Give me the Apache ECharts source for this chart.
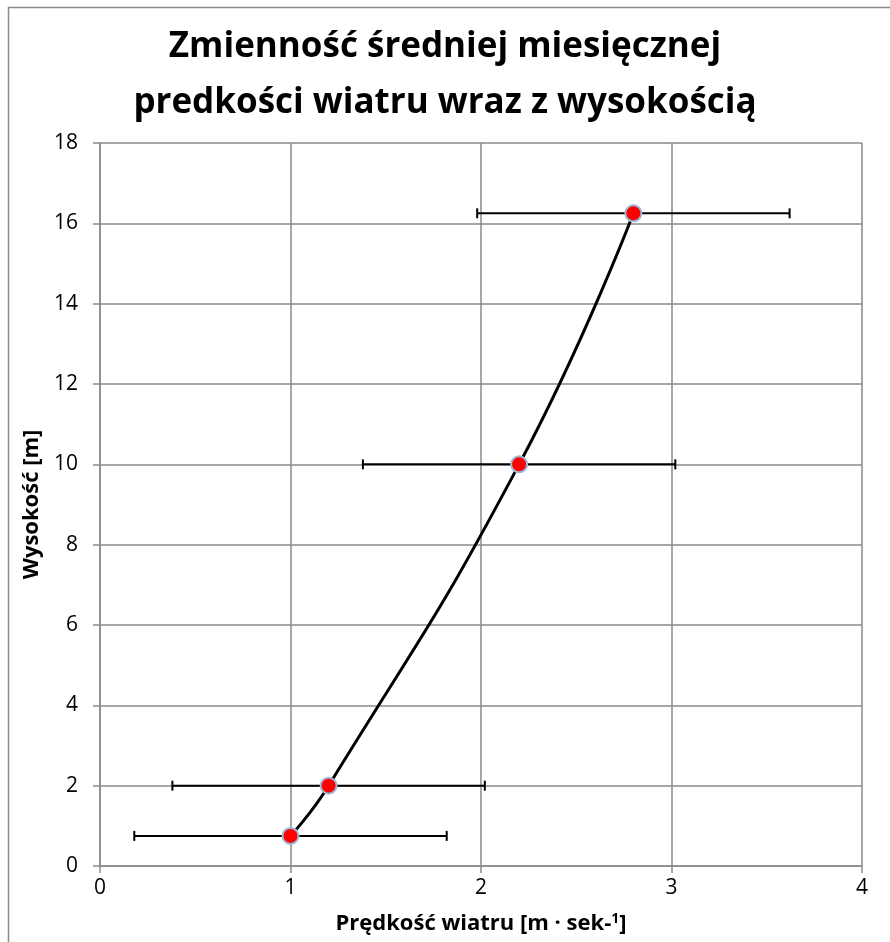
<!DOCTYPE html>
<html><head><meta charset="utf-8">
<script src="https://cdn.jsdelivr.net/npm/echarts@6/dist/echarts.min.js"></script>
<style>html,body{margin:0;padding:0;background:#fff}#c{width:890px;height:942px}</style>
</head><body><div id="c"></div>
<script>
var speeds = [1.0, 1.2, 2.2, 2.8];
var heights = [0.75, 2, 10, 16.25];
var errors = [0.82, 0.82, 0.82, 0.82];
var titleLines = ['Zmienność średniej miesięcznej', 'predkości wiatru wraz z wysokością'];

var pts = speeds.map(function(s, i){ return [s, heights[i]]; });
var errData = speeds.map(function(s, i){ return [s - errors[i], s + errors[i], heights[i]]; });

var chart = echarts.init(document.getElementById('c'), null, {renderer:'canvas'});
var F = '"Open Sans", "Liberation Sans", sans-serif';
chart.setOption({
  animation: false,
  backgroundColor: '#fff',
  title: {
    text: titleLines.join('\n'),
    left: 'center', top: 14,
    textStyle: { fontFamily: F, fontWeight: 'bold', fontSize: 35, lineHeight: 56, color: '#000' }
  },
  graphic: [{
    type: 'rect', shape: {x: 8.5, y: 7.5, width: 1000, height: 1000},
    style: {fill: 'none', stroke: '#8a8a8a', lineWidth: 1.5}, silent: true
  }],
  grid: { left: 100, right: 28, top: 143, bottom: 76 },
  xAxis: {
    type: 'value', min: 0, max: 4, interval: 1,
    name: '{a|Prędkość wiatru [m · sek-}{s|1}{a|]}',
    nameLocation: 'middle', nameGap: 46,
    nameTextStyle: { rich: {
      a: {fontFamily: F, fontWeight: 'bold', fontSize: 22, color: '#000'},
      s: {fontFamily: F, fontWeight: 'bold', fontSize: 14, color: '#000', verticalAlign: 'top', padding: [0,0,10,0]}
    }},
    axisLine: {lineStyle: {color: '#8a8a8a', width: 1.5}},
    axisTick: {show: true, length: 7, lineStyle: {color: '#8a8a8a', width: 1.5}},
    axisLabel: {fontFamily: F, fontSize: 21, color: '#000', margin: 12},
    splitLine: {lineStyle: {color: '#8a8a8a', width: 1.5}}
  },
  yAxis: {
    type: 'value', min: 0, max: 18, interval: 2,
    name: 'Wysokość [m]', nameLocation: 'middle', nameGap: 56,
    nameTextStyle: {fontFamily: F, fontWeight: 'bold', fontSize: 22, color: '#000'},
    axisLine: {show: true, lineStyle: {color: '#8a8a8a', width: 1.5}},
    axisTick: {show: true, length: 7, lineStyle: {color: '#8a8a8a', width: 1.5}},
    axisLabel: {fontFamily: F, fontSize: 21, color: '#000', margin: 22},
    splitLine: {lineStyle: {color: '#8a8a8a', width: 1.5}}
  },
  series: [{
    type: 'custom',
    data: errData,
    renderItem: function(params, api){
      var l = api.coord([api.value(0), api.value(2)]);
      var r = api.coord([api.value(1), api.value(2)]);
      var st = {stroke: '#000', lineWidth: 2};
      return {type: 'group', children: [
        {type: 'line', shape: {x1: l[0], y1: l[1], x2: r[0], y2: r[1]}, style: st},
        {type: 'line', shape: {x1: l[0], y1: l[1]-5, x2: l[0], y2: l[1]+5}, style: st},
        {type: 'line', shape: {x1: r[0], y1: r[1]-5, x2: r[0], y2: r[1]+5}, style: st}
      ]};
    },
    z: 2
  }, {
    type: 'line',
    data: pts,
    smooth: 0.5,
    symbol: 'circle', symbolSize: 16,
    lineStyle: {color: '#000', width: 3},
    itemStyle: {color: '#ff0000', borderColor: '#9db7d6', borderWidth: 2},
    z: 3
  }]
});
</script></body></html>
